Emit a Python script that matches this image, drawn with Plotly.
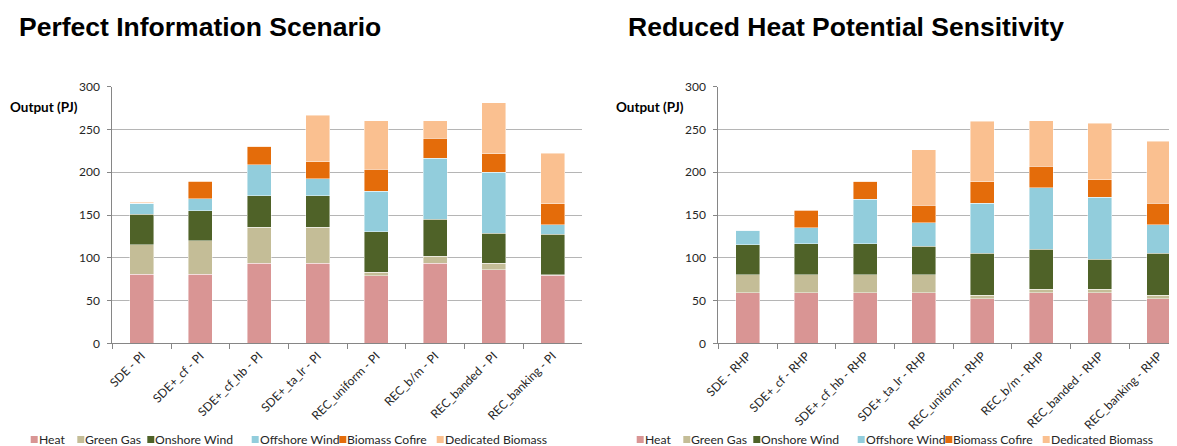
import plotly.graph_objects as go

# page is 1177x446; the plot div sits at the default 8px body margin
PAGE_W, PAGE_H = 1177, 446
OFF = 8
W, H = PAGE_W - OFF, PAGE_H - OFF

# ---------------- data ----------------
series_names = ["Heat", "Green Gas", "Onshore Wind", "Offshore Wind", "Biomass Cofire", "Dedicated Biomass"]
series_colors = ["#D99594", "#C4BD97", "#4F6228", "#92CDDC", "#E46C0A", "#FAC090"]

pi_categories = ["SDE - PI", "SDE+_cf - PI", "SDE+_cf_hb - PI", "SDE+_ta_lr - PI",
                 "REC_uniform - PI", "REC_b/m - PI", "REC_banded - PI", "REC_banking - PI"]
rhp_categories = ["SDE - RHP", "SDE+_cf - RHP", "SDE+_cf_hb - RHP", "SDE+_ta_lr - RHP",
                  "REC_uniform - RHP", "REC_b/m - RHP", "REC_banded - RHP", "REC_banking - RHP"]

# Perfect Information Scenario (PJ)
pi_heat = [81, 81, 93.5, 93.5, 79, 93.5, 86, 79.5]
pi_green_gas = [34, 39, 42, 42, 4, 8.5, 7.5, 0.5]
pi_onshore = [36, 35, 37, 37, 47.5, 43, 35, 47.5]
pi_offshore = [13, 14, 36.5, 20, 47.5, 71.5, 71.5, 11]
pi_cofire = [0, 20, 21, 20, 25.5, 23, 21.5, 24.5]
pi_dedicated = [1, 1, 0.5, 54, 56.5, 20.5, 59.5, 59]

# Reduced Heat Potential Sensitivity (PJ)
rhp_heat = [59, 59, 59, 59, 52, 59, 59, 52]
rhp_green_gas = [21, 21, 21, 21, 4, 4, 4, 4]
rhp_onshore = [35.5, 36.5, 36.5, 33.5, 49, 47, 35.5, 49]
rhp_offshore = [16.5, 18.5, 52, 27.5, 59, 72, 72, 33.5]
rhp_cofire = [0, 20.5, 20.5, 20.5, 25, 25, 20.5, 25]
rhp_dedicated = [0.5, 0.5, 0.5, 65, 70.5, 53, 66.5, 72.5]

pi_series = [pi_heat, pi_green_gas, pi_onshore, pi_offshore, pi_cofire, pi_dedicated]
rhp_series = [rhp_heat, rhp_green_gas, rhp_onshore, rhp_offshore, rhp_cofire, rhp_dedicated]

y_ticks = [0, 50, 100, 150, 200, 250, 300]

# ---------------- figure ----------------
fig = go.Figure()

for name, color, vals in zip(series_names, series_colors, pi_series):
    fig.add_trace(go.Bar(x=pi_categories, y=vals, name=name, marker_color=color,
                         marker_line=dict(color="rgba(255,255,255,0.55)", width=0.8),
                         xaxis="x", yaxis="y", showlegend=False))
for name, color, vals in zip(series_names, series_colors, rhp_series):
    fig.add_trace(go.Bar(x=rhp_categories, y=vals, name=name, marker_color=color,
                         marker_line=dict(color="rgba(255,255,255,0.55)", width=0.8),
                         xaxis="x2", yaxis="y2", showlegend=False))

def px_x(x):
    return (x - OFF) / W

def px_y(y):
    return 1 - (y - OFF) / H

ydom = [px_y(343.3), px_y(86.7)]
cat_w = 58.7

axis_font = dict(family="Lato, Open Sans, sans-serif", size=12, color="#262626")
xcommon = dict(type="category", showline=True, linecolor="#868686", linewidth=1,
               ticks="outside", tickson="boundaries", ticklen=5, tickcolor="#868686",
               tickangle=-45, tickfont=axis_font, showgrid=False, zeroline=False,
               automargin=False)
ycommon = dict(range=[0, 300], tickvals=y_ticks, showline=True, linecolor="#868686",
               linewidth=1, ticks="outside", ticklen=4, tickcolor="#868686",
               showgrid=True, gridcolor="#B5B5B5", gridwidth=1, zeroline=False,
               tickfont=axis_font, ticklabelstandoff=5, automargin=False)

right_end = 718.3 + 8 * cat_w
fig.update_layout(
    width=W, height=H,
    margin=dict(l=0, r=0, t=0, b=0, pad=0, autoexpand=False),
    paper_bgcolor="white", plot_bgcolor="white",
    barmode="stack", bargap=0.59,
    xaxis=dict(domain=[px_x(112.3), px_x(112.3 + 8 * cat_w)], range=[-0.5, 7.5],
               anchor="y", **xcommon),
    yaxis=dict(domain=ydom, anchor="x", **ycommon),
    xaxis2=dict(domain=[px_x(718.3), 1.0],
                range=[-0.5, 7.5 - (right_end - PAGE_W) / cat_w], anchor="y2", **xcommon),
    yaxis2=dict(domain=ydom, anchor="x2", **ycommon),
    showlegend=False,
)

annotations = []
shapes = []
titles = ["Perfect Information Scenario", "Reduced Heat Potential Sensitivity"]
title_x = [17, 626]
chart_offset = [0, 606]
for t, tx, off in zip(titles, title_x, chart_offset):
    annotations.append(dict(text="<b>" + t + "</b>", x=px_x(tx), y=px_y(27),
                            xref="paper", yref="paper", xanchor="left", yanchor="middle",
                            showarrow=False,
                            font=dict(family="Liberation Sans, Arial, sans-serif", size=26.5,
                                      color="#000000")))
    annotations.append(dict(text="<b>Output (PJ)</b>", x=px_x(8 + off), y=px_y(107),
                            xref="paper", yref="paper", xanchor="left", yanchor="middle",
                            showarrow=False,
                            font=dict(family="Lato, Open Sans, sans-serif", size=13.5,
                                      color="#000000")))

# legend (one row under each chart)
legend_item_x = [30.7, 77.3, 147.3, 251.7, 339.3, 436.7]
legend_y = 439.5
for off in chart_offset:
    for name, color, lx in zip(series_names, series_colors, legend_item_x):
        x0 = lx + off
        shapes.append(dict(type="rect", xref="paper", yref="paper",
                           x0=px_x(x0), x1=px_x(x0 + 7),
                           y0=px_y(legend_y + 3.5), y1=px_y(legend_y - 3.5),
                           fillcolor=color, line=dict(width=0)))
        annotations.append(dict(text=name, x=px_x(x0 + 7), y=px_y(legend_y),
                                xref="paper", yref="paper", xanchor="left", yanchor="middle",
                                showarrow=False, borderpad=0,
                                font=dict(family="Lato, Open Sans, sans-serif", size=12.2,
                                          color="#262626")))

fig.update_layout(annotations=annotations, shapes=shapes)

fig.write_html("out.html")
